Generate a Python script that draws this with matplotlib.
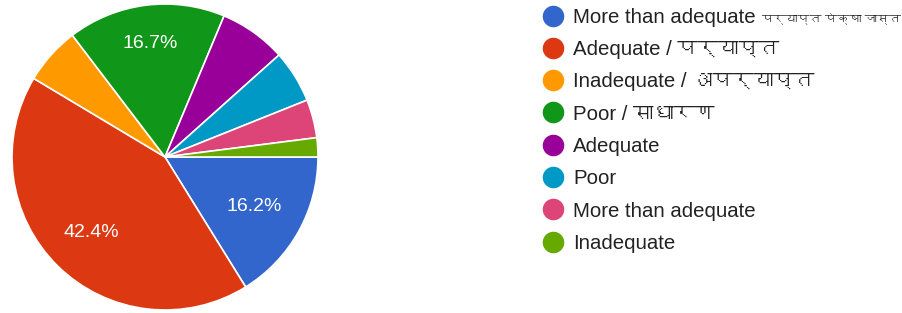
import numpy as np
import matplotlib
matplotlib.use("Agg")
import matplotlib.pyplot as plt
from matplotlib import font_manager
from matplotlib.lines import Line2D

# Data (counts, total 198 responses)
labels = ["More than adequate",
          "Adequate / पर्याप्त",
          "Inadequate / अपर्याप्त",
          "Poor / साधारण",
          "Adequate",
          "Poor",
          "More than adequate",
          "Inadequate"]
label0_tail = "पर्याप्त पेक्षा जास्त"   # rest of the first legend label
counts = [32, 84, 12, 33, 14, 11, 8, 4]
colors = ["#3366cc", "#dc3912", "#ff9900", "#109618",
          "#990099", "#0099c6", "#dd4477", "#66aa00"]

# find a font that has Devanagari glyphs, if any is installed
deva = []
for f in font_manager.fontManager.ttflist:
    try:
        ft = font_manager.get_font(f.fname)
        if 0x092A in ft.get_charmap() and f.name not in deva:
            deva.append(f.name)
    except Exception:
        pass
family = ["Liberation Sans"] + deva[:1] + ["DejaVu Sans"]
plt.rcParams["font.family"] = family

W, H = 903, 313
fig = plt.figure(figsize=(W / 100, H / 100), dpi=100)

cx, cy, r = 165, 157, 153
ax = fig.add_axes([(cx - r) / W, (H - cy - r) / H, 2 * r / W, 2 * r / H])

wedges, _ = ax.pie(counts, colors=colors, startangle=0, counterclock=False,
                   wedgeprops=dict(edgecolor="white", linewidth=1.2))
ax.set_aspect("equal")
ax.set_xlim(-1, 1)
ax.set_ylim(-1, 1)

# percentage labels only on the big slices
total = sum(counts)
label_r = {0: 0.67, 1: 0.69, 3: 0.75}
for i, w in enumerate(wedges):
    if i not in label_r:
        continue
    mid = np.deg2rad((w.theta1 + w.theta2) / 2)
    rr = label_r[i]
    ax.text(rr * np.cos(mid), rr * np.sin(mid), f"{100 * counts[i] / total:.1f}%",
            ha="center", va="center", color="white", fontsize=14)

handles = [Line2D([0], [0], marker="o", linestyle="", markersize=14.5,
                  markerfacecolor=c, markeredgecolor=c) for c in colors]
leg = fig.legend(handles, labels, loc="upper left", bbox_to_anchor=(535 / W, 1 + 0.5 / H),
                 frameon=False, fontsize=14.7, labelspacing=0.652, handletextpad=0.47,
                 handlelength=1.0, borderaxespad=0)
for t in leg.get_texts():
    t.set_color("#222222")

# Devanagari tail of the first label: matplotlib draws it unshaped (wider),
# so put it after the English part and shrink it to fit the figure
fig.canvas.draw()
t0 = leg.get_texts()[0]
bb = t0.get_window_extent()
bx, by = t0.get_transform().transform(t0.get_position())
x0, y0 = fig.transFigure.inverted().transform((bb.x1 + 5, by))
tail = fig.text(x0, y0, label0_tail, ha="left", va="baseline",
                fontsize=14.7, color="#222222")
fs = 14.7
fig.canvas.draw()
while tail.get_window_extent().x1 > W - 1 and fs > 7:
    fs -= 0.2
    tail.set_fontsize(fs)
    fig.canvas.draw()

fig.savefig("out.png", dpi=100)
